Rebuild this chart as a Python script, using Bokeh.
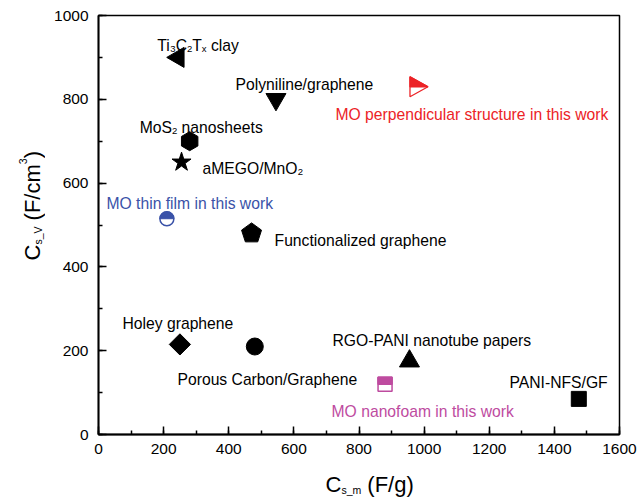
import numpy as np
from bokeh.plotting import figure
from bokeh.layouts import column, row
from bokeh.models import Range1d, SingleIntervalTicker, ColumnDataSource
from bokeh.core.properties import value
from bokeh.embed import file_html
from bokeh.resources import INLINE

# ---- data: gravimetric (F/g) vs volumetric (F/cm3) capacitance ----
lit_names = ["Ti3C2Tx clay", "Polyniline/graphene", "MoS2 nanosheets", "aMEGO/MnO2",
             "Functionalized graphene", "Holey graphene", "Porous Carbon/Graphene",
             "RGO-PANI nanotube papers", "PANI-NFS/GF"]
lit_cs_m = [245, 545, 280, 255, 470, 250, 480, 955, 1475]
lit_cs_v = [900, 800, 700, 650, 480, 215, 210, 175, 85]

work_names = ["MO perpendicular structure in this work", "MO thin film in this work",
              "MO nanofoam in this work"]
work_cs_m = [975, 210, 880]
work_cs_v = [830, 515, 120]

x_ticks = [0, 200, 400, 600, 800, 1000, 1200, 1400, 1600]
y_ticks = [0, 200, 400, 600, 800, 1000]

# ---- styles ----
FONT = "Liberation Sans"
FS = 15.7
SUB = 9.5
RED = "#EC2327"
BLUE = "#3A52A8"
MAGENTA = "#BE4B9F"

W, H = 640, 498
YT_W = 45            # strip holding the y-axis title
XT_H = 28            # strip holding the x-axis title
MAIN_W, MAIN_H = W - YT_W, H - XT_H
BL, BR, BT, BB = 53, 21, 15, 36
FW, FH = MAIN_W - BL - BR, MAIN_H - BT - BB
UX = (x_ticks[-1] - x_ticks[0]) / FW   # data units per screen px
UY = (y_ticks[-1] - y_ticks[0]) / FH

p = figure(width=MAIN_W, height=MAIN_H, output_backend="svg", toolbar_location=None,
           x_range=Range1d(x_ticks[0], x_ticks[-1]), y_range=Range1d(y_ticks[0], y_ticks[-1]),
           min_border_left=BL, min_border_right=BR, min_border_top=BT, min_border_bottom=BB)
p.background_fill_color = "white"
p.border_fill_color = "white"
p.grid.visible = False
p.outline_line_color = "black"
p.outline_line_width = 1.5
p.outline_line_alpha = 1.0

for ax, ticks in ((p.xaxis, x_ticks), (p.yaxis, y_ticks)):
    ax.ticker = SingleIntervalTicker(interval=ticks[1] - ticks[0], num_minor_ticks=2)
    ax.axis_line_color = "black"
    ax.axis_line_width = 1.8
    ax.major_tick_line_color = "black"
    ax.minor_tick_line_color = "black"
    ax.major_tick_line_width = 1.5
    ax.minor_tick_line_width = 1.5
    ax.major_tick_in = 8
    ax.major_tick_out = 0
    ax.minor_tick_in = 4
    ax.minor_tick_out = 0
    ax.major_label_text_font = FONT
    ax.major_label_text_font_size = "15.5px"
    ax.major_label_text_color = "black"
p.xaxis.major_label_standoff = 9
p.yaxis.major_label_standoff = 10

# ---- Arial-compatible advance widths for composing sub/superscripts ----
_W = {" ": 278, "(": 333, ")": 333, "-": 333, "/": 278, "_": 556}
_W.update({d: 556 for d in "0123456789"})
_W.update(dict(zip("ABCDEFGHIJKLMNOPQRSTUVWXYZ",
                   [667, 667, 722, 722, 667, 611, 778, 722, 278, 500, 667, 556, 833,
                    722, 778, 667, 778, 722, 667, 611, 722, 667, 944, 667, 667, 611])))
_W.update(dict(zip("abcdefghijklmnopqrstuvwxyz",
                   [556, 556, 500, 556, 556, 278, 556, 556, 222, 222, 500, 222, 833,
                    556, 556, 556, 556, 333, 500, 278, 556, 500, 722, 500, 500, 500])))


def text_width(s, size):
    return sum(_W.get(c, 556) for c in s) * size / 1000.0


def rich_pieces(store, x, y, parts, dx, dy, size, sub_size, color, angle=0.0):
    """Append text pieces (normal / sub / sup); (dx, dy) is the baseline start in px, dy up."""
    adv = 0.0
    for text, role in parts:
        fs = size if role == "n" else sub_size
        shift = 0.0 if role == "n" else (-0.25 * size if role == "sub" else 0.42 * size)
        lead = len(text) - len(text.lstrip(" "))
        adv += text_width(" " * lead, fs)
        body = text.strip(" ")
        if angle == 0.0:
            xo, yo = dx + adv, dy + shift
        else:
            xo, yo = dx - shift, dy + adv
        store["x"].append(x)
        store["y"].append(y)
        store["xo"].append(xo)
        store["yo"].append(-yo)
        store["text"].append(body)
        store["size"].append(f"{fs}px")
        store["color"].append(color)
        store["angle"].append(angle)
        adv += text_width(body, fs)


def new_store():
    return {k: [] for k in ("x", "y", "xo", "yo", "text", "size", "color", "angle")}


def draw_text(fig, store):
    fig.text(x="x", y="y", x_offset="xo", y_offset="yo", text="text", angle="angle",
             text_font=value(FONT), text_font_size="size", text_color="color",
             text_baseline="alphabetic", text_align="left", source=ColumnDataSource(store))


# ---- literature markers ----
lit_marker = ["triangle", "inverted_triangle", "hex", "star", None, "square", "circle",
              "triangle", "square"]
lit_size = [20, 20, 19, 20, None, 15, 17, 20, 15]
lit_angle = [np.pi / 2, 0, np.pi / 2, 0, None, np.pi / 4, 0, 0, 0]
idx = [i for i, m in enumerate(lit_marker) if m is not None]
src = ColumnDataSource(dict(x=[lit_cs_m[i] for i in idx], y=[lit_cs_v[i] for i in idx],
                            marker=[lit_marker[i] for i in idx],
                            size=[lit_size[i] for i in idx],
                            angle=[lit_angle[i] for i in idx]))
p.scatter(x="x", y="y", marker="marker", size="size", angle="angle", source=src,
          fill_color="black", line_color="black")

# pentagon for functionalized graphene
k = lit_marker.index(None)
R = 10.5
th = np.pi / 2 + 2 * np.pi * np.arange(5) / 5
p.patch(lit_cs_m[k] + R * np.cos(th) * UX, lit_cs_v[k] + R * np.sin(th) * UY,
        fill_color="black", line_color="black")

# ---- this-work markers (upper half filled) ----
fx, fy = work_cs_m[0], work_cs_v[0]
fw, fh = 18, 20
p.patch([fx - fw / 3 * UX, fx + 2 * fw / 3 * UX, fx - fw / 3 * UX],
        [fy + fh / 2 * UY, fy, fy - fh / 2 * UY],
        fill_color="white", line_color=RED, line_width=1.3)
p.patch([fx - fw / 3 * UX, fx + 2 * fw / 3 * UX, fx - fw / 3 * UX],
        [fy + fh / 2 * UY, fy, fy],
        fill_color=RED, line_color=RED, line_width=1.3)

p.scatter(x=[work_cs_m[1]], y=[work_cs_v[1]], marker="circle", size=14,
          fill_color="white", line_color=BLUE, line_width=1.5)
p.wedge(x=[work_cs_m[1]], y=[work_cs_v[1]], radius=7, radius_units="screen",
        start_angle=0, end_angle=np.pi, fill_color=BLUE, line_color=BLUE)

sx, sy = work_cs_m[2], work_cs_v[2]
sh = 7
p.patch([sx - sh * UX, sx + sh * UX, sx + sh * UX, sx - sh * UX],
        [sy - sh * UY, sy - sh * UY, sy + sh * UY, sy + sh * UY],
        fill_color="white", line_color=MAGENTA, line_width=1.5)
p.patch([sx - sh * UX, sx + sh * UX, sx + sh * UX, sx - sh * UX],
        [sy, sy, sy + sh * UY, sy + sh * UY],
        fill_color=MAGENTA, line_color=MAGENTA, line_width=1.5)

# ---- point labels (baseline-left offsets in px from each marker) ----
lit_parts = [
    [("Ti", "n"), ("3", "sub"), ("C", "n"), ("2", "sub"), ("T", "n"), ("x", "sub"), (" clay", "n")],
    [(lit_names[1], "n")],
    [("MoS", "n"), ("2", "sub"), (" nanosheets", "n")],
    [("aMEGO/MnO", "n"), ("2", "sub")],
    [(lit_names[4], "n")],
    [(lit_names[5], "n")],
    [(lit_names[6], "n")],
    [(lit_names[7], "n")],
    [(lit_names[8], "n")],
]
lit_dx = [-21, -40.5, -50, 21, 23, -57.4, -77.3, -77, -69.3]
lit_dy = [12.4, 15.3, 14.2, -6, -7.6, 21.4, -32.5, 20.2, 15.9]
labels = new_store()
for i in range(len(lit_names)):
    rich_pieces(labels, lit_cs_m[i], lit_cs_v[i], lit_parts[i], lit_dx[i], lit_dy[i],
                FS, SUB, "black")

work_color = [RED, BLUE, MAGENTA]
work_dx = [-80.5, -60.4, -53.5]
work_dy = [-27.3, 15.7, -26.8]
for i in range(len(work_names)):
    rich_pieces(labels, work_cs_m[i], work_cs_v[i], [(work_names[i], "n")],
                work_dx[i], work_dy[i], FS, SUB, work_color[i])
draw_text(p, labels)


# ---- axis-title strips ----
def blank(width, height):
    f = figure(width=width, height=height, output_backend="svg", toolbar_location=None,
               x_range=Range1d(0, width), y_range=Range1d(0, height),
               x_axis_location=None, y_axis_location=None,
               min_border=0, min_border_left=0, min_border_right=0,
               min_border_top=0, min_border_bottom=0)
    f.grid.visible = False
    f.outline_line_color = None
    f.background_fill_color = "white"
    f.border_fill_color = "white"
    return f


ytitle = blank(YT_W, MAIN_H)
yt = new_store()
rich_pieces(yt, 0, 0, [("C", "n"), ("s_V", "sub"), (" (F/cm", "n"), ("3", "sup"), (")", "n")],
            32, 174, 22, 10.5, "black", angle=np.pi / 2)
draw_text(ytitle, yt)

xtitle = blank(W, XT_H)
xt = new_store()
rich_pieces(xt, 0, 0, [("C", "n"), ("s_m", "sub"), (" (F/g)", "n")],
            325, 14, 22, 10.5, "black")
draw_text(xtitle, xt)

layout = column(row(ytitle, p, spacing=0), xtitle, spacing=0)
open("out.html", "w").write(file_html(layout, INLINE))
